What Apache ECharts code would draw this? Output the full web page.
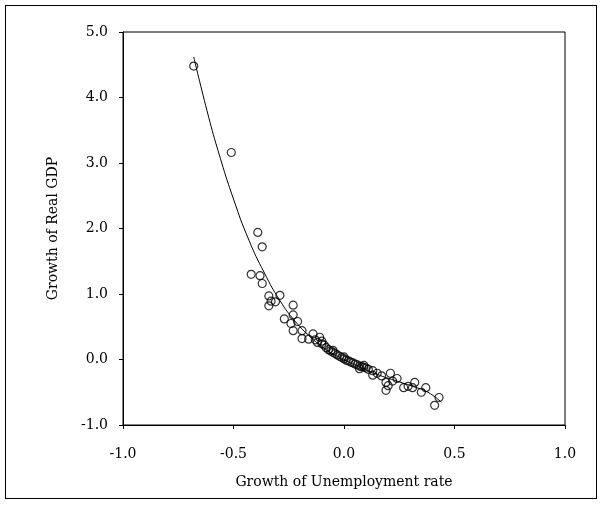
<!DOCTYPE html>
<html>
<head>
<meta charset="utf-8">
<script src="https://cdn.jsdelivr.net/npm/echarts@6/dist/echarts.min.js"></script>
<style>
html, body { margin: 0; padding: 0; background: #fff; }
#frame { position: absolute; left: 5px; top: 5px; width: 592px; height: 494px; border: 1.5px solid #000; box-sizing: border-box; }
#main { position: absolute; left: 0; top: 0; width: 605px; height: 509px; }
</style>
</head>
<body>
<div id="frame"></div>
<div id="main"></div>
<script>
// observed points: growth of unemployment rate vs growth of real GDP
let unempX = [-0.68, -0.51, -0.39, -0.37, -0.42, -0.38, -0.37, -0.34, -0.33, -0.34, -0.29, -0.31,
    -0.23, -0.23, -0.27, -0.24, -0.21, -0.23, -0.19, -0.14, -0.11, -0.19, -0.16,
    -0.13, -0.12, -0.10, -0.09, -0.08, -0.07, -0.06, -0.05, -0.04, -0.03, -0.02, -0.01,
    0.00, 0.01, 0.02, 0.03, 0.04, 0.05, 0.06, 0.07, 0.08, 0.09, 0.10, 0.11, -0.10, -0.05, 0.00,
    0.09, 0.07, 0.13, 0.15, 0.21, 0.13, 0.19, 0.24, 0.19, 0.27, 0.32, 0.31, 0.37, 0.35, 0.43, 0.41,
    0.17, 0.20, 0.22, 0.29];
let gdpY = [4.48, 3.16, 1.94, 1.72, 1.30, 1.28, 1.16, 0.97, 0.89, 0.82, 0.98, 0.88,
    0.83, 0.68, 0.62, 0.55, 0.58, 0.44, 0.44, 0.39, 0.34, 0.32, 0.31,
    0.30, 0.26, 0.24, 0.22, 0.18, 0.15, 0.13, 0.11, 0.09, 0.07, 0.05, 0.03,
    0.01, -0.01, -0.02, -0.04, -0.05, -0.07, -0.08, -0.10, -0.11, -0.12, -0.13, -0.15, 0.28, 0.14, 0.04,
    -0.09, -0.14, -0.17, -0.21, -0.21, -0.24, -0.35, -0.29, -0.47, -0.43, -0.35, -0.43, -0.43, -0.50, -0.58, -0.70,
    -0.25, -0.40, -0.33, -0.41];

// fitted curve
let fitX = [-0.68, -0.62, -0.57, -0.50, -0.43, -0.36, -0.29, -0.22, -0.15, -0.08, 0.00, 0.08, 0.16, 0.24, 0.32, 0.38, 0.44];
let fitY = [4.62, 3.80, 3.19, 2.45, 1.82, 1.32, 0.90, 0.58, 0.34, 0.15, 0.00, -0.13, -0.24, -0.33, -0.42, -0.50, -0.65];

let myChart = echarts.init(document.getElementById('main'));
let font = '"DejaVu Serif", "Liberation Serif", serif';

let option = {
    animation: false,
    grid: { left: 123, right: 40, top: 32, bottom: 84, show: true, borderColor: '#000', borderWidth: 1 },
    xAxis: {
        type: 'value', min: -1, max: 1, interval: 0.5,
        name: 'Growth of Unemployment rate', nameLocation: 'middle', nameGap: 50,
        nameTextStyle: { fontFamily: font, fontSize: 14, color: '#000' },
        axisLine: { show: true, onZero: false, lineStyle: { color: '#000' } },
        axisTick: { show: true, lineStyle: { color: '#000' }, length: 4 },
        splitLine: { show: false },
        axisLabel: { fontFamily: font, fontSize: 14, color: '#000', margin: 22,
            formatter: v => v.toFixed(1) }
    },
    yAxis: {
        type: 'value', min: -1, max: 5, interval: 1,
        name: 'Growth of Real GDP', nameLocation: 'middle', nameGap: 63,
        nameTextStyle: { fontFamily: font, fontSize: 14, color: '#000' },
        axisLine: { show: true, onZero: false, lineStyle: { color: '#000' } },
        axisTick: { show: true, lineStyle: { color: '#000' }, length: 4 },
        splitLine: { show: false },
        axisLabel: { fontFamily: font, fontSize: 14, color: '#000', margin: 15,
            formatter: v => v.toFixed(1) }
    },
    series: [{
        type: 'scatter',
        symbol: 'circle', symbolSize: 8,
        itemStyle: { color: 'rgba(255,255,255,0)', borderColor: '#000', borderWidth: 1.2 },
        data: unempX.map((x, i) => [x, gdpY[i]])
    }, {
        type: 'line', smooth: true, symbol: 'none',
        lineStyle: { color: '#000', width: 1 },
        data: fitX.map((x, i) => [x, fitY[i]])
    }]
};
myChart.setOption(option);
</script>
</body>
</html>
